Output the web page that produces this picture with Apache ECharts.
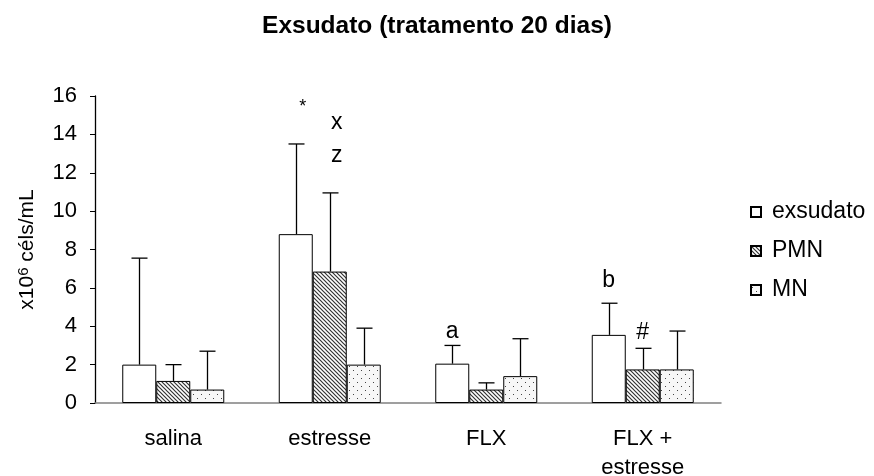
<!DOCTYPE html>
<html>
<head>
<meta charset="utf-8">
<script src="https://cdn.jsdelivr.net/npm/echarts@6/dist/echarts.min.js"></script>
<style>
  html, body { margin: 0; padding: 0; background: #fff; }
  #chart { width: 874px; height: 476px; }
</style>
</head>
<body>
<div id="chart"></div>
<script>
// Groups on the x axis
const categories = ['salina', 'estresse', 'FLX', 'FLX +\nestresse'];

// Mean cell counts (x10^6 céls/mL) and their standard deviations
const exsudato   = [2.0, 8.8, 2.05, 3.55];
const exsudatoSD = [5.55, 4.7, 0.95, 1.65];
const pmn        = [1.15, 6.85, 0.7, 1.75];
const pmnSD      = [0.85, 4.1, 0.35, 1.1];
const mn         = [0.7, 2.0, 1.4, 1.75];
const mnSD       = [2.0, 1.9, 1.95, 2.0];

const seriesNames = ['exsudato', 'PMN', 'MN'];

// Y axis ticks
const yMin = 0, yMax = 16, yStep = 2;

// Significance marks: [category index, series index, value, symbol]
const marks = [
  [1, 0, 15.4, '*'],
  [1, 1, 14.6, 'x'],
  [1, 1, 12.9, 'z'],
  [2, 0, 3.7, 'a'],
  [3, 0, 6.4, 'b'],
  [3, 1, 3.65, '#']
];

// ---- styling ----
const FONT = '"Liberation Sans", Arial, sans-serif';
const BAR_W = 34;
const markStyle = { '*': { size: 18, dx: 7 }, 'x': { size: 23, dx: 7 }, 'z': { size: 23, dx: 7 } };

function hatchPattern() {
  const c = document.createElement('canvas');
  c.width = 4; c.height = 4;
  const g = c.getContext('2d');
  g.fillStyle = '#fff';
  g.fillRect(0, 0, 4, 4);
  g.strokeStyle = '#333';
  g.lineWidth = 1.2;
  g.beginPath();
  g.moveTo(-1, -1); g.lineTo(5, 5);
  g.moveTo(-1, 3); g.lineTo(1, 5);
  g.moveTo(3, -1); g.lineTo(5, 1);
  g.stroke();
  return c;
}

function dotPattern() {
  const c = document.createElement('canvas');
  c.width = 8; c.height = 8;
  const g = c.getContext('2d');
  g.fillStyle = '#f7f7f7';
  g.fillRect(0, 0, 8, 8);
  g.fillStyle = '#444';
  g.fillRect(1, 2, 1, 1);
  g.fillRect(5, 6, 1, 1);
  return c;
}

const fills = [
  '#ffffff',
  { image: hatchPattern(), repeat: 'repeat' },
  { image: dotPattern(), repeat: 'repeat' }
];

const means = [exsudato, pmn, mn];
const sds = [exsudatoSD, pmnSD, mnSD];

const barSeries = seriesNames.map((name, i) => ({
  name: name,
  type: 'bar',
  data: means[i],
  barWidth: BAR_W,
  barGap: '0%',
  itemStyle: { color: fills[i], borderColor: '#000', borderWidth: 1 },
  emphasis: { disabled: true },
  silent: true,
  z: 2
}));

// Upper error bars, drawn from each bar's own mean
const errorSeries = seriesNames.map((name, i) => ({
  type: 'custom',
  name: name + ' SD',
  data: means[i].map((m, k) => [k, m, m + sds[i][k]]),
  encode: { x: 0, y: [1, 2] },
  silent: true,
  z: 3,
  renderItem: function (params, api) {
    const base = api.coord([api.value(0), api.value(1)]);
    const top = api.coord([api.value(0), api.value(2)]);
    const x = Math.round(base[0] + (i - 1) * BAR_W) + 0.5;
    const half = 8;
    const st = { stroke: '#000', lineWidth: 1.3 };
    return {
      type: 'group',
      children: [
        { type: 'line', shape: { x1: x, y1: base[1], x2: x, y2: top[1] }, style: st },
        { type: 'line', shape: { x1: x - half, y1: top[1], x2: x + half, y2: top[1] }, style: st }
      ]
    };
  }
}));

// Significance letters placed over their bars
const markSeries = {
  type: 'custom',
  name: 'marks',
  data: marks.map(m => [m[0], m[2], m[1]]),
  encode: { x: 0, y: 1 },
  silent: true,
  z: 4,
  renderItem: function (params, api) {
    const p = api.coord([api.value(0), api.value(1)]);
    const txt = marks[params.dataIndex][3];
    const st = markStyle[txt] || { size: 23, dx: 0 };
    const x = p[0] + (api.value(2) - 1) * BAR_W + st.dx;
    return {
      type: 'text',
      x: x, y: p[1],
      style: {
        text: txt, fill: '#000', font: st.size + 'px ' + FONT,
        align: 'center', verticalAlign: 'middle'
      }
    };
  }
};

const chart = echarts.init(document.getElementById('chart'), null, { renderer: 'canvas' });
chart.setOption({
  animation: false,
  backgroundColor: '#fff',
  title: {
    text: 'Exsudato (tratamento 20 dias)',
    left: 'center',
    top: 9,
    textStyle: { fontFamily: FONT, fontSize: 24.5, fontWeight: 'bold', color: '#000' }
  },
  legend: {
    data: seriesNames,
    orient: 'vertical',
    left: 750,
    top: 199,
    padding: 0,
    itemWidth: 10,
    itemHeight: 10,
    itemGap: 13,
    icon: 'rect',
    selectedMode: false,
    textStyle: { fontFamily: FONT, fontSize: 23, color: '#000', padding: [0, 0, 0, 6], lineHeight: 26 }
  },
  grid: { left: 95, right: 153, top: 96, bottom: 73, outerBoundsMode: 'none', containLabel: false },
  xAxis: {
    type: 'category',
    data: categories,
    axisLine: { lineStyle: { color: '#808080', width: 1.5 } },
    axisTick: { show: false },
    axisLabel: {
      fontFamily: FONT, fontSize: 22, color: '#000',
      margin: 21, lineHeight: 29, interval: 0
    }
  },
  yAxis: {
    type: 'value',
    min: yMin, max: yMax, interval: yStep,
    name: '{a|x10}{s|6}{a| céls/mL}',
    nameLocation: 'middle',
    nameGap: 56,
    nameRotate: 90,
    nameTextStyle: {
      rich: {
        a: { fontFamily: FONT, fontSize: 21, color: '#000' },
        s: { fontFamily: FONT, fontSize: 15, color: '#000', verticalAlign: 'top', padding: [0, 0, 8, 0] }
      }
    },
    axisLine: { show: true, lineStyle: { color: '#000', width: 1.3 } },
    axisTick: { show: true, inside: false, length: 5, lineStyle: { color: '#000' } },
    splitLine: { show: false },
    axisLabel: { fontFamily: FONT, fontSize: 22, color: '#000', margin: 18 }
  },
  series: [...barSeries, ...errorSeries, markSeries]
});
</script>
</body>
</html>
